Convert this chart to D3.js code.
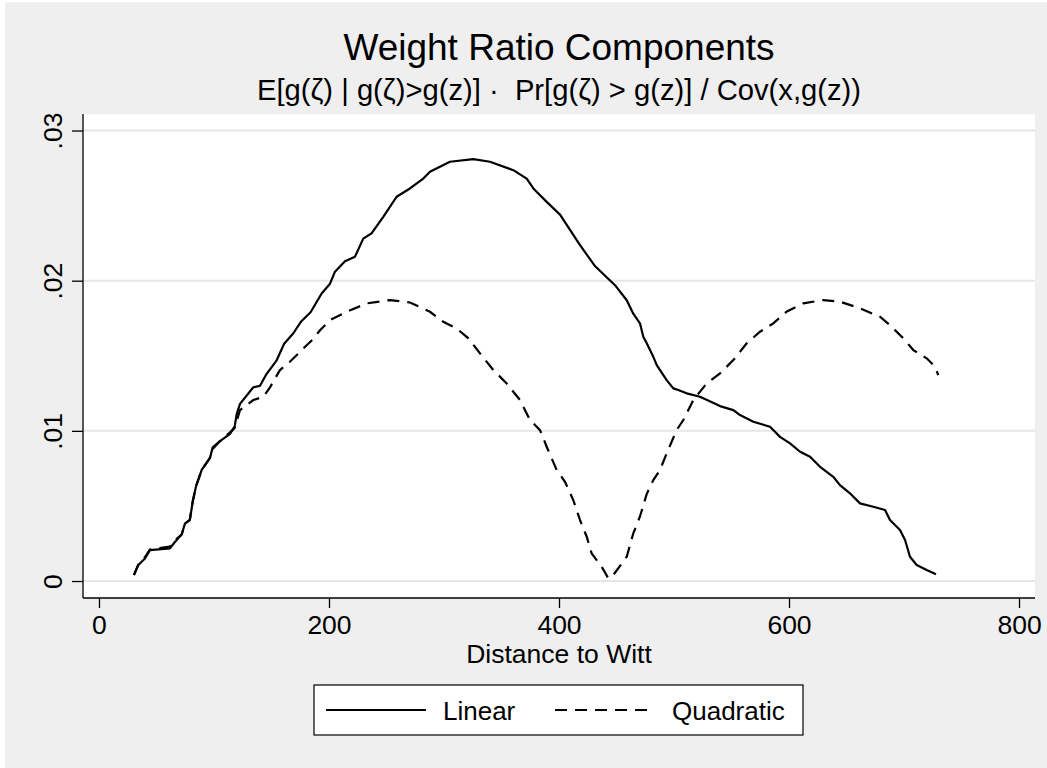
<!DOCTYPE html>
<html>
<head>
<meta charset="utf-8">
<script src="https://cdn.jsdelivr.net/npm/d3@7"></script>
<style>
  html, body { margin: 0; padding: 0; background: #fff; }
  svg { display: block; font-family: "Liberation Sans", Arial, sans-serif; }
</style>
</head>
<body>
<svg id="chart" width="1047" height="768"></svg>
<script>
// values
const linearX = [30.4, 34.2, 40, 44.3, 61.7, 66, 71.9, 74.8, 79, 81.5, 84.3, 89.3, 96.5, 98.9, 105, 113.9, 118, 119.7, 122.6,
  134.2, 140, 145.8, 154.5, 161, 169, 176, 184, 193.6, 200.9, 205.2, 213.9, 222.6, 229.8, 237, 247.2, 258.8, 270.4, 282,
  287.8, 305.2, 325.5, 340, 360.3, 371.9, 377.7, 389.3, 400.9, 418, 431, 448.7, 458.9, 464.6, 470.4, 473.3, 476.3, 482,
  485, 493.6, 499.4, 503.7, 511, 522.6, 540, 551.6, 557.4, 569, 583.5, 592.2, 600.9, 609.6, 618.3, 627, 638.5, 644.3,
  653, 661.7, 673.3, 683.5, 687.8, 696.5, 700.9, 705.2, 711, 719.7, 727.8];
const linearY = [.0004, .00107, .0015, .00206, .00218, .0026, .0031, .00384, .00406, .00528, .00628, .0074, .0082, .0089,
  .0093, .0098, .0103, .0111, .0118, .0129, .0130, .0138, .0147, .0158, .0165, .0173, .0179, .01915, .0198, .0206, .0213,
  .0216, .0228, .02315, .02425, .02559, .02614, .0268, .02725, .02792, .0281, .02792, .02736, .0268, .02614, .02525, .0244,
  .0224, .021, .0197, .0187, .0178, .01716, .01627, .01583, .01493, .01438, .01338, .01283, .01272, .0125, .01227, .01165,
  .01138, .01105, .01061, .01027, .0096, .00917, .00861, .00828, .00761, .00694, .00639, .00584, .00517, .00495, .00473,
  .00406, .0034, .00273, .00162, .00107, .00073, .00045];

const quadX = [30.4, 34.2, 40, 44.3, 61.7, 66, 71.9, 74.8, 79, 81.5, 84.3, 89.3, 96.5, 98.9, 105, 113.9, 118, 122.6, 134.2,
  142.9, 148.7, 157.4, 166, 174.8, 186, 192.2, 200.9, 215.4, 232.8, 253, 270.4, 287.8, 299.4, 311, 321.2, 331.3, 342.9,
  354.5, 366.1, 374.8, 383.5, 389.3, 398, 405.2, 412.4, 418.3, 424.1, 428.4, 437.1, 442.9, 447.2, 458.9, 464.6, 470.4,
  476.3, 482, 487.8, 493.6, 502.3, 508.1, 516.8, 528.4, 540, 551.6, 563.2, 574.8, 586.3, 597.8, 612.4, 629.8, 644.3,
  661.7, 679.1, 687.8, 699.4, 708.1, 719.7, 727, 729.8];
const quadY = [.0004, .0011, .0016, .0021, .0023, .0027, .0031, .0038, .0041, .0053, .0063, .0074, .0082, .0088, .0093,
  .0099, .0102, .01138, .01205, .01227, .0129, .01405, .0146, .01527, .0161, .0167, .01738, .01793, .01849, .01871, .01855,
  .01793, .01726, .01682, .01616, .01516, .01405, .01316, .01205, .01072, .01005, .00894, .00739, .00661, .00539, .00406,
  .00295, .00184, .00095, .00018, .0004, .00162, .00318, .0043, .0058, .00672, .00739, .0085, .01005, .01072, .01205,
  .01316, .01383, .01471, .01583, .0166, .01716, .01793, .01849, .01871, .0186, .01816, .0176, .01704, .01616, .01538,
  .01483, .01427, .01371];

const xTicks = [0, 200, 400, 600, 800];
const yTicks = [0, .01, .02, .03];
const yTickLabels = ["0", ".01", ".02", ".03"];
const seriesNames = ["Linear", "Quadratic"];
const titleText = "Weight Ratio Components";
const subtitleText = "E[g(\u03B6) | g(\u03B6)>g(z)] \u00B7  Pr[g(\u03B6) > g(z)] / Cov(x,g(z))";
const xTitle = "Distance to Witt";

const svg = d3.select("#chart");
const W = 1047, H = 768;
const plot = { left: 83, right: 1035, top: 114, bottom: 598 };
const FONT = "Liberation Sans, Arial, sans-serif";

// outer (graph region) background
svg.append("rect").attr("x", 5).attr("y", 2).attr("width", W - 5).attr("height", H - 2).attr("fill", "#efefef");

const x = d3.scaleLinear().domain([-13.9, 813.9]).range([plot.left, plot.right]);
const y = d3.scaleLinear().domain([-0.00113, 0.0311]).range([plot.bottom, plot.top]);

// plot region
svg.append("rect")
  .attr("x", plot.left).attr("y", plot.top)
  .attr("width", plot.right - plot.left).attr("height", plot.bottom - plot.top)
  .attr("fill", "#fff");

// grid lines
svg.append("g").selectAll("line").data(yTicks).join("line")
  .attr("x1", plot.left).attr("x2", plot.right)
  .attr("y1", d => y(d)).attr("y2", d => y(d))
  .attr("stroke", "#e6e6e6").attr("stroke-width", 2);

// y axis
const yAxis = svg.append("g")
  .attr("transform", `translate(${plot.left},0)`)
  .call(d3.axisLeft(y).tickValues(yTicks).tickSize(11).tickSizeOuter(0).tickFormat((d, i) => yTickLabels[i]));
yAxis.select(".domain").attr("stroke", "#000").attr("stroke-width", 1.3)
  .attr("d", `M0,${plot.top}V${plot.bottom}`);
yAxis.selectAll(".tick line").attr("stroke", "#000").attr("stroke-width", 1.3);
yAxis.selectAll(".tick text")
  .attr("x", null).attr("dy", null)
  .attr("transform", "translate(-21,0) rotate(-90)")
  .attr("text-anchor", "middle")
  .attr("font-size", 26.5).attr("fill", "#000")
  .attr("font-family", FONT);

// x axis
const xAxis = svg.append("g")
  .attr("transform", `translate(0,${plot.bottom})`)
  .call(d3.axisBottom(x).tickValues(xTicks).tickSize(10).tickSizeOuter(0));
xAxis.select(".domain").attr("stroke", "#000").attr("stroke-width", 1.3)
  .attr("d", `M${plot.left},0H${plot.right}`);
xAxis.selectAll(".tick line").attr("stroke", "#000").attr("stroke-width", 1.3);
xAxis.selectAll(".tick text")
  .attr("y", 36).attr("dy", null)
  .attr("font-size", 26.5).attr("fill", "#000")
  .attr("font-family", FONT);

// series
const line = d3.line().x(d => x(d[0])).y(d => y(d[1]));
const linearData = linearX.map((v, i) => [v, linearY[i]]);
const quadData = quadX.map((v, i) => [v, quadY[i]]);

svg.append("path").datum(linearData)
  .attr("d", line).attr("fill", "none")
  .attr("stroke", "#000").attr("stroke-width", 2.2).attr("stroke-linejoin", "round");
svg.append("path").datum(quadData)
  .attr("d", line).attr("fill", "none")
  .attr("stroke", "#000").attr("stroke-width", 2.2).attr("stroke-dasharray", "12,8");

// titles
const cx = (plot.left + plot.right) / 2;
svg.append("text").attr("x", cx).attr("y", 60).attr("text-anchor", "middle")
  .attr("font-size", 37).text(titleText);
svg.append("text").attr("x", cx).attr("y", 100).attr("text-anchor", "middle")
  .style("white-space", "pre")
  .attr("font-size", 29.2).text(subtitleText);
svg.append("text").attr("x", cx).attr("y", 663).attr("text-anchor", "middle")
  .attr("font-size", 26.5).text(xTitle);

// legend
const legend = svg.append("g");
legend.append("rect").attr("x", 314).attr("y", 685).attr("width", 489).attr("height", 50)
  .attr("fill", "#fff").attr("stroke", "#000").attr("stroke-width", 1.2);
const legendItems = [
  { name: seriesNames[0], x0: 326, dash: null },
  { name: seriesNames[1], x0: 555, dash: "12,8" }
];
legendItems.forEach(it => {
  legend.append("line").attr("x1", it.x0).attr("x2", it.x0 + 100).attr("y1", 710).attr("y2", 710)
    .attr("stroke", "#000").attr("stroke-width", 2.2).attr("stroke-dasharray", it.dash);
  legend.append("text").attr("x", it.x0 + 117).attr("y", 720).attr("font-size", 26).text(it.name);
});
</script>
</body>
</html>
